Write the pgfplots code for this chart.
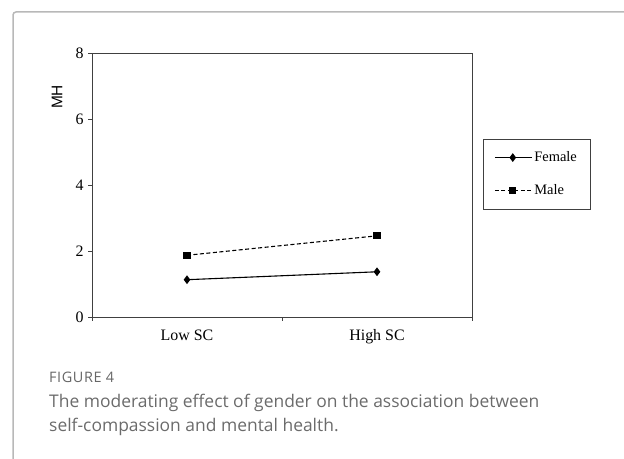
\documentclass[border=0pt]{standalone}
\usepackage{fontspec}
\setmainfont{Liberation Serif}
\newfontfamily\capfont{Open Sans}
\newfontfamily\capfontls[LetterSpace=4]{Open Sans}
\newfontfamily\arial{Liberation Sans}
\usepackage{pgfplots}
\pgfplotsset{compat=1.18}
\begin{document}
\begin{tikzpicture}[x=1bp,y=1bp]
\useasboundingbox (0,0) rectangle (624,459);
\draw[black!28, line width=1.5bp, rounded corners=3bp] (13,-5) -- (13,447) -- (630,447);
\begin{axis}[
  at={(92bp,142bp)}, anchor=south west, scale only axis,
  width=380bp, height=264bp,
  xmin=-0.5, xmax=1.5, ymin=0, ymax=8,
  ytick={0,2,4,6,8},
  xtick={-0.5,0.5,1.5}, xticklabels={},
  extra x ticks={0,1}, extra x tick labels={Low SC,High SC},
  extra x tick style={major tick length=0pt},
  xtick pos=bottom, ytick pos=left,
  tick align=outside, major tick length=4bp,
  axis line style={black!75, line width=0.9bp},
  tick style={black!75, line width=0.9bp},
  /pgf/number format/assume math mode=true,
  ticklabel style={font=\fontsize{16}{18}\selectfont},
  xticklabel style={yshift=-9bp},
  yticklabel style={xshift=-1bp},
  legend style={at={(1.029,0.409)}, anchor=south west, draw=black!75,
    font=\fontsize{14.5}{16}\selectfont, row sep=17bp, inner sep=11bp,
    legend cell align=left},
  legend image code/.code={\draw[mark repeat=2,mark phase=2,#1] plot coordinates {(0bp,0bp)(18bp,0bp)(37bp,0bp)};},
]
\addplot[black, line width=1.1bp, mark=diamond*, mark size=3.5bp] coordinates {(0,1.13) (1,1.37)};
\addlegendentry{Female}
\addplot[black, line width=1.1bp, dash pattern=on 4bp off 2.5bp, mark=square*, mark size=3bp, mark options={solid}] coordinates {(0,1.87) (1,2.46)};
\addlegendentry{Male}
\end{axis}
\node[rotate=90, font=\arial\fontsize{15.5}{17}\selectfont] at (57,362) {MH};
\node[anchor=base west, inner sep=0, font=\capfontls\fontsize{14.5}{16}\selectfont, text=black!60] at (49,76.3) {FIGURE 4};
\node[anchor=base west, inner sep=0, font=\capfont\fontsize{17.5}{20}\selectfont, text=black!58] at (49,51) {The moderating effect of gender on the association between};
\node[anchor=base west, inner sep=0, font=\capfont\fontsize{17.5}{20}\selectfont, text=black!58] at (49,27) {self-compassion and mental health.};
\end{tikzpicture}
\end{document}
